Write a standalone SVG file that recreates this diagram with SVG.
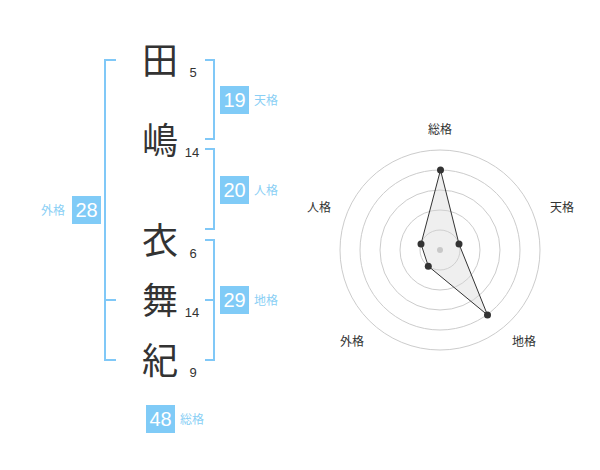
<svg xmlns="http://www.w3.org/2000/svg" width="600" height="470" viewBox="0 0 600 470">
<style>
.kanji{font-family:"Noto Sans CJK JP","Noto Sans",sans-serif;font-size:36px;fill:#333;text-anchor:middle}
.num{font-family:"Liberation Sans",Arial,sans-serif;font-size:13px;fill:#333;text-anchor:middle}
.box{fill:#80cbf7}
.boxnum{font-family:"Liberation Sans",Arial,sans-serif;font-size:20px;fill:#fff;text-anchor:middle}
.lbl{font-family:"Noto Sans CJK JP",sans-serif;font-size:12px;fill:#8acff5}
.br{fill:none;stroke:#80c8f7;stroke-width:2}
.ring{fill:none;stroke:#cccccc;stroke-width:1}
.axl{font-family:"Noto Sans CJK JP",sans-serif;font-size:12px;fill:#333;text-anchor:middle}
.dot{fill:#333}
</style>
<rect width="600" height="470" fill="#fff"/>
<g id="name">
<g id="c1"><text class="kanji" x="160" y="74">田</text><text class="num" x="193" y="77">5</text></g>
<g id="c2"><text class="kanji" x="160" y="154">嶋</text><text class="num" x="192" y="157">14</text></g>
<g id="c3"><text class="kanji" x="160" y="254">衣</text><text class="num" x="193" y="258">6</text></g>
<g id="c4"><text class="kanji" x="160" y="314">舞</text><text class="num" x="192" y="317">14</text></g>
<g id="c5"><text class="kanji" x="160" y="374">紀</text><text class="num" x="193" y="377">9</text></g>
</g>
<g id="connectors">
<path class="br" d="M116,60 H105 V360 H116 M105,300 H116"/>
<path class="br" d="M205,60 H214 V139 H205"/>
<path class="br" d="M205,149 H214 V229 H205"/>
<path class="br" d="M205,240 H214 V360 H205 M205,300 H214"/>
</g>
<g id="tenkaku"><rect class="box" x="220" y="86" width="29" height="28"/><text class="boxnum" x="234.5" y="107">19</text><text class="lbl" x="254" y="105">天格</text></g>
<g id="jinkaku"><rect class="box" x="220" y="176" width="29" height="28"/><text class="boxnum" x="234.5" y="197">20</text><text class="lbl" x="254" y="195">人格</text></g>
<g id="gaikaku"><rect class="box" x="72" y="196" width="29" height="28"/><text class="boxnum" x="86.5" y="217">28</text><text class="lbl" x="41" y="215">外格</text></g>
<g id="chikaku"><rect class="box" x="220" y="286" width="29" height="28"/><text class="boxnum" x="234.5" y="307">29</text><text class="lbl" x="254" y="305">地格</text></g>
<g id="soukaku"><rect class="box" x="146" y="405" width="29" height="28"/><text class="boxnum" x="160.5" y="426">48</text><text class="lbl" x="180" y="424">総格</text></g>
<g id="radar">
<circle class="ring" cx="440" cy="250" r="20"/>
<circle class="ring" cx="440" cy="250" r="40"/>
<circle class="ring" cx="440" cy="250" r="60"/>
<circle class="ring" cx="440" cy="250" r="80"/>
<circle class="ring" cx="440" cy="250" r="100"/>
<polygon points="440.5,170 459,244 487.5,315 428.3,266.2 421,244" fill="#d8d8d8" fill-opacity="0.4" stroke="#333" stroke-width="1"/>
<circle cx="440" cy="250" r="3" fill="#c8c8c8"/>
<circle class="dot" cx="440.5" cy="170" r="3.5"/>
<circle class="dot" cx="459" cy="244" r="3.5"/>
<circle class="dot" cx="487.5" cy="315" r="3.5"/>
<circle class="dot" cx="428.3" cy="266.2" r="3.5"/>
<circle class="dot" cx="421" cy="244" r="3.5"/>
<text class="axl" x="440" y="134">総格</text>
<text class="axl" x="562" y="212">天格</text>
<text class="axl" x="319" y="212">人格</text>
<text class="axl" x="352" y="346">外格</text>
<text class="axl" x="524" y="346">地格</text>
</g>
</svg>
